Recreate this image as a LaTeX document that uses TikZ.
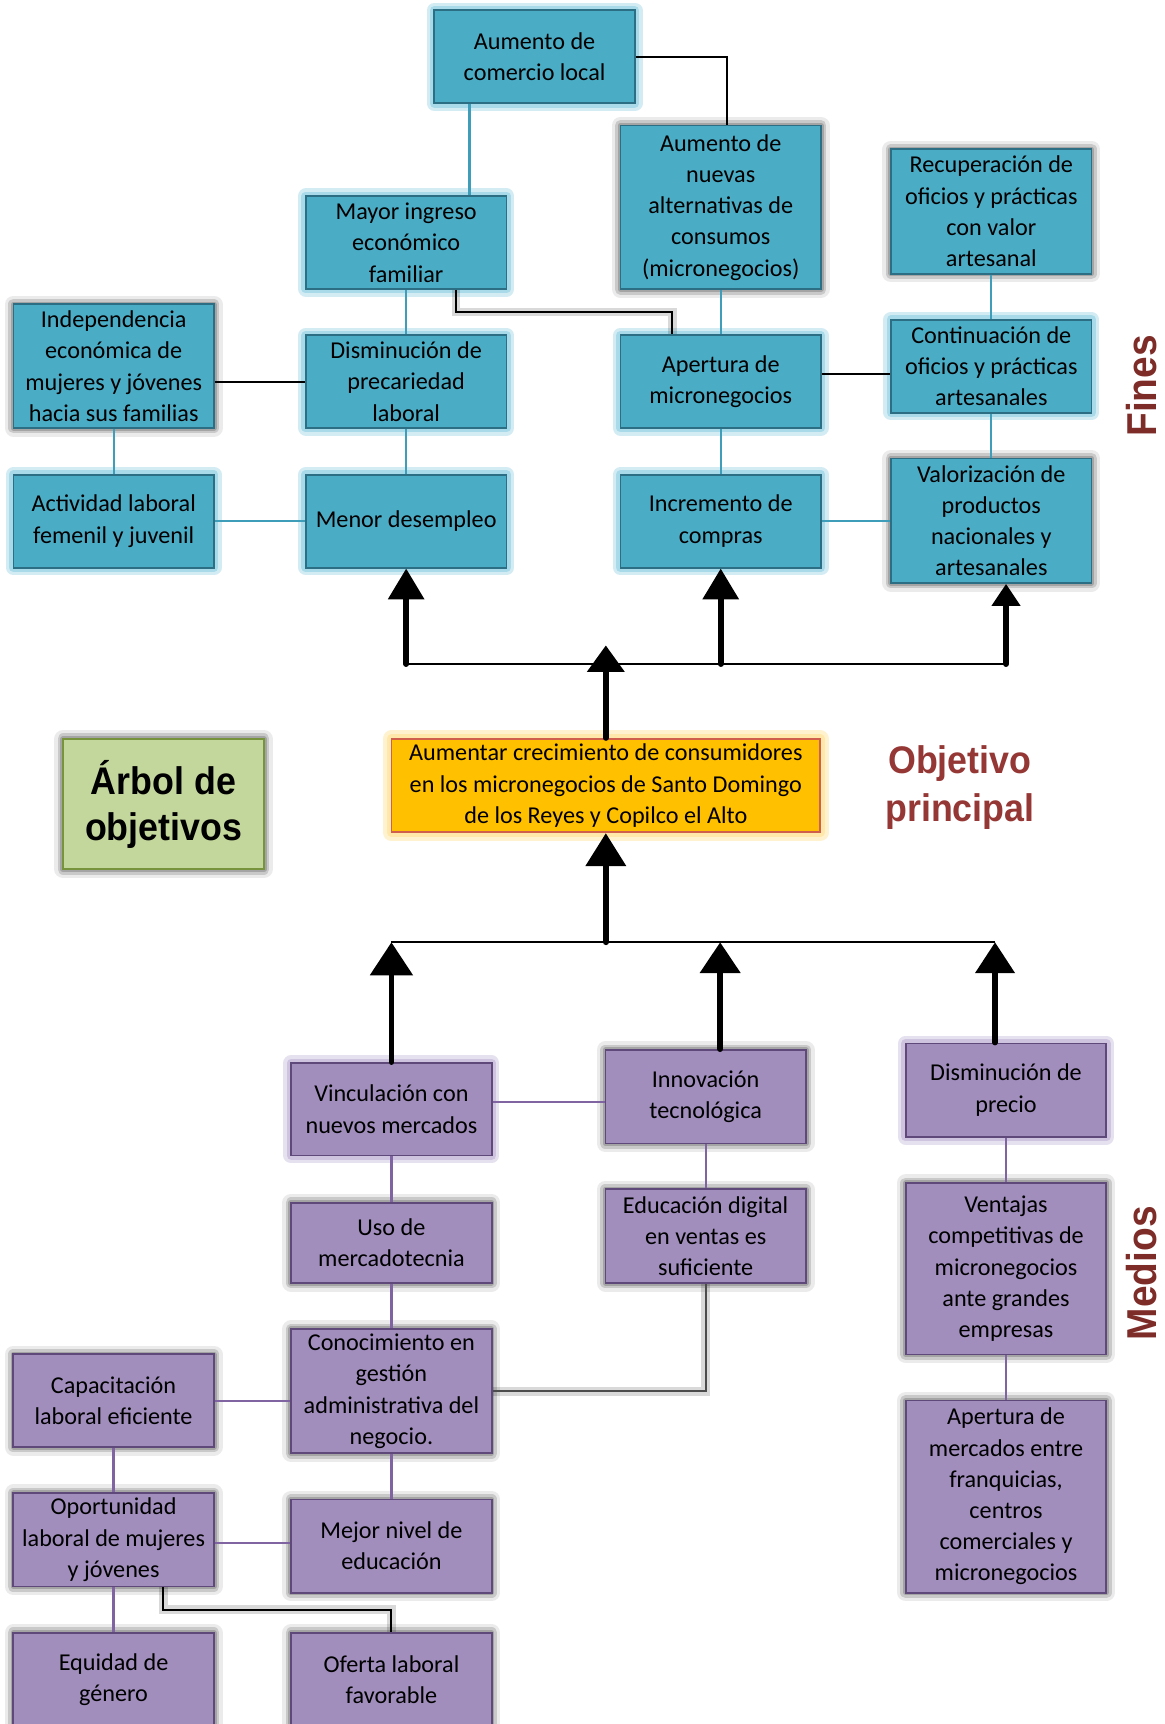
\documentclass[tikz,border=0pt]{standalone}
\usepackage{fontspec}
\setmainfont{Carlito}
\newfontfamily\headfont{Liberation Sans}[FakeStretch=0.93]
\usetikzlibrary{arrows.meta}

\definecolor{finFill}{HTML}{4BACC6}
\definecolor{finBorder}{HTML}{2C6E84}
\definecolor{finGlow}{HTML}{9ED6E8}
\definecolor{finLine}{HTML}{3E9DB8}
\definecolor{medFill}{HTML}{A18EBD}
\definecolor{medBorder}{HTML}{5F497A}
\definecolor{medGlow}{HTML}{C9BDDC}
\definecolor{medLine}{HTML}{8064A2}
\definecolor{objFill}{HTML}{FFC000}
\definecolor{objBorder}{HTML}{D0604D}
\definecolor{objGlow}{HTML}{FFE6A0}
\definecolor{treeFill}{HTML}{C3D69B}
\definecolor{treeBorder}{HTML}{77933C}
\definecolor{titleRed}{HTML}{953735}
\definecolor{sideRed}{HTML}{7E2C28}

\tikzset{
  boxtext/.style={align=center, inner sep=0pt, font=\fontsize{11}{14.2}\selectfont},
  glowfin/.style={preaction={draw=finGlow, draw opacity=0.45, line width=7pt, line join=round},
                  preaction={draw=finGlow, draw opacity=0.8, line width=4pt, line join=round}},
  glowmed/.style={preaction={draw=medGlow, draw opacity=0.45, line width=7pt, line join=round},
                  preaction={draw=medGlow, draw opacity=0.8, line width=4pt, line join=round}},
  grayshade/.style={preaction={draw=black, draw opacity=0.08, line width=8pt, line join=round},
                    preaction={draw=black, draw opacity=0.14, line width=5pt, line join=round},
                    preaction={draw=black, draw opacity=0.18, line width=2.5pt, line join=round}},
  finbox/.style={boxtext, rectangle, draw=finBorder, line width=0.8pt, fill=finFill, minimum width=91.2pt},
  medbox/.style={boxtext, rectangle, draw=medBorder, line width=0.8pt, fill=medFill, minimum width=91.2pt},
  finlink/.style={draw=finLine, line width=1pt},
  medlink/.style={draw=medLine, line width=1pt},
  blacklink/.style={draw=black, line width=0.9pt},
  shadedlink/.style={line width=0.9pt, preaction={draw=black, draw opacity=0.15, line width=4pt}},
  busline/.style={draw=black, line width=1pt},
  shaft/.style={draw=black, line width=2.6pt, line cap=round},
}

\begin{document}
\begin{tikzpicture}[x=0.5pt, y=-0.5pt]
\useasboundingbox (0,0) rectangle (1059,1568);
\fill[white] (0,0) rectangle (1059,1568);

% ---------- Fines ----------
\node[finbox, glowfin, minimum height=42.3pt]  (comercio) at (486.2,51.7)  {Aumento de\\comercio local};
\node[finbox, grayshade, minimum height=74.35pt] (nuevas) at (655.5,188.55) {Aumento de\\nuevas\\alternativas de\\consumos\\(micronegocios)};
\node[finbox, grayshade, minimum height=56.55pt] (recup)  at (901.6,192.35) {Recuperación de\\oficios y prácticas\\con valor\\artesanal};
\node[finbox, glowfin, minimum height=42.3pt]  (mayor)    at (369.4,220.6) {Mayor ingreso\\económico\\familiar};
\node[finbox, grayshade, minimum height=56.2pt] (indep)   at (103.4,333)   {Independencia\\económica de\\mujeres y jóvenes\\hacia sus familias};
\node[finbox, glowfin, minimum height=42.1pt]  (dismin)   at (369.4,347.1) {Disminución de\\precariedad\\laboral};
\node[finbox, glowfin, minimum height=42.1pt]  (apert)    at (655.5,347.1) {Apertura de\\micronegocios};
\node[finbox, glowfin, minimum height=42.3pt]  (contin)   at (901.6,333)   {Continuación de\\oficios y prácticas\\artesanales};
\node[finbox, glowfin, minimum height=42.3pt]  (activ)    at (103.4,474)   {Actividad laboral\\femenil y juvenil};
\node[finbox, glowfin, minimum height=42.3pt]  (menor)    at (369.4,474)   {Menor desempleo};
\node[finbox, glowfin, minimum height=42.3pt]  (increm)   at (655.5,474)   {Incremento de\\compras};
\node[finbox, grayshade, minimum height=56.6pt] (valor)   at (901.6,473.6) {Valorización de\\productos\\nacionales y\\artesanales};

% helper positions for connectors
\coordinate (xcom) at (427,0);
\coordinate (xnue) at (661,0);
\coordinate (xmay) at (414.7,0);
\coordinate (xape) at (611.3,0);
\coordinate (ymay) at (0,283.8);
\coordinate (yape) at (0,340.2);

\draw[finlink] (comercio.south -| xcom) -- (mayor.north -| xcom);
\draw[blacklink] (comercio.east) -| (nuevas.north -| xnue);
\draw[finlink] (nuevas.south) -- (apert.north);
\draw[finlink] (recup.south) -- (contin.north);
\draw[finlink] (mayor.south) -- (dismin.north);
\draw[shadedlink] (mayor.south -| xmay) -- (ymay -| xmay) -- (ymay -| xape) -- (apert.north -| xape);
\draw[blacklink] (dismin.west) -- (dismin.west -| indep.east);
\draw[blacklink] (apert.east |- yape) -- (contin.west |- yape);
\draw[finlink] (indep.south) -- (activ.north);
\draw[finlink] (dismin.south) -- (menor.north);
\draw[finlink] (apert.south) -- (increm.north);
\draw[finlink] (contin.south) -- (valor.north);
\draw[finlink] (activ.east) -- (menor.west);
\draw[finlink] (increm.east) -- (increm.east -| valor.west);

% ---------- central objective ----------
\node[boxtext, rectangle, draw=objBorder, line width=0.8pt, fill=objFill,
      minimum width=195pt, minimum height=42.5pt,
      preaction={draw=objGlow, draw opacity=0.5, line width=8pt, line join=round},
      preaction={draw=objGlow, draw opacity=0.8, line width=4pt, line join=round}]
      (obj) at (551,714.5) {Aumentar crecimiento de consumidores\\en los micronegocios de Santo Domingo\\de los Reyes y Copilco el Alto};

\node[rectangle, draw=treeBorder, line width=0.9pt, fill=treeFill, grayshade,
      minimum width=91.25pt, minimum height=59.3pt, align=center, inner sep=0pt,
      font=\headfont\bfseries\fontsize{17.5}{21}\selectfont]
      (arbol) at (148.75,731.3) {Árbol de\\objetivos};

\node[align=center, inner sep=0pt, text=titleRed,
      font=\headfont\bfseries\fontsize{17.5}{22}\selectfont]
      (objtitle) at (873,716) {Objetivo\\principal};

\node[rotate=90, inner sep=0pt, text=sideRed, font=\headfont\bfseries\fontsize{19}{19}\selectfont]
      (fines) at (1038,351) {Fines};
\node[rotate=90, inner sep=0pt, text=sideRed, font=\headfont\bfseries\fontsize{19}{19}\selectfont]
      (medios) at (1038,1158) {Medios};

% ---------- Medios ----------
\node[medbox, glowmed, minimum height=42.1pt]  (vinc)     at (356,1008.9)   {Vinculación con\\nuevos mercados};
\node[medbox, grayshade, minimum height=42.5pt] (innov)   at (641.8,997.5)  {Innovación\\tecnológica};
\node[medbox, glowmed, minimum height=42.5pt]  (dprecio)  at (915,991.5)    {Disminución de\\precio};
\node[medbox, grayshade, minimum height=36.5pt] (uso)     at (356,1130.3)   {Uso de\\mercadotecnia};
\node[medbox, grayshade, minimum height=42.55pt] (educ)   at (641.8,1124.25) {Educación digital\\en ventas es\\suficiente};
\node[medbox, grayshade, minimum height=78pt]   (ventajas) at (915,1154)    {Ventajas\\competitivas de\\micronegocios\\ante grandes\\empresas};
\node[medbox, grayshade, minimum height=56.35pt] (conoc)  at (356,1265.25)  {Conocimiento en\\gestión\\administrativa del\\negocio.};
\node[medbox, grayshade, minimum height=42.1pt] (capac)   at (103.3,1273.9) {Capacitación\\laboral eficiente};
\node[medbox, grayshade, minimum height=87.35pt] (aperm)  at (915,1361.15)  {Apertura de\\mercados entre\\franquicias,\\centros\\comerciales y\\micronegocios};
\node[medbox, grayshade, minimum height=42.5pt] (oport)   at (103.3,1400.5) {Oportunidad\\laboral de mujeres\\y jóvenes};
\node[medbox, grayshade, minimum height=42.4pt] (mejor)   at (356,1406.1)   {Mejor nivel de\\educación};
\node[medbox, grayshade, minimum height=43pt]   (equidad) at (103.3,1528)   {Equidad de\\género};
\node[medbox, grayshade, minimum height=43pt]   (oferta)  at (356,1528)     {Oferta laboral\\favorable};

\coordinate (yvin) at (0,1002.6);
\coordinate (yopo) at (0,1403.4);
\coordinate (xopo) at (148.5,0);
\coordinate (yofe) at (0,1464);

\draw[medlink] (vinc.east |- yvin) -- (innov.west |- yvin);
\draw[medlink] (innov.south) -- (educ.north);
\draw[medlink] (vinc.south) -- (uso.north);
\draw[medlink] (uso.south) -- (conoc.north);
\draw[medlink] (conoc.south) -- (mejor.north);
\draw[medlink] (capac.east) -- (capac.east -| conoc.west);
\draw[medlink] (capac.south) -- (oport.north);
\draw[medlink] (oport.east |- yopo) -- (mejor.west |- yopo);
\draw[medlink] (oport.south) -- (equidad.north);
\draw[medlink] (dprecio.south) -- (ventajas.north);
\draw[medlink] (ventajas.south) -- (aperm.north);
\draw[shadedlink, draw=black!70] (conoc.east) -| (educ.south);
\draw[shadedlink] (oport.south -| xopo) -- (yofe -| xopo) -- (yofe -| oferta.north) -- (oferta.north);

% ---------- arrows towards the objective and the ends ----------
\coordinate (ybusup) at (0,604);
\coordinate (xval) at (915,0);
\coordinate (ytop) at (0,587);
\coordinate (ybuslow) at (0,857);
\coordinate (xinn) at (655,0);
\coordinate (xdpr) at (905,0);

\draw[busline] (menor.south |- ybusup) -- (ybusup -| xval);
\draw[shaft, -{Triangle[width=16pt,length=14pt]}] (menor.south |- ybusup) -- (menor.south);
\draw[shaft, -{Triangle[width=16pt,length=14pt]}] (increm.south |- ybusup) -- (increm.south);
\draw[shaft, -{Triangle[width=12.5pt,length=10pt]}] (ybusup -| xval) -- (valor.south -| xval);
\draw[shaft, -{Triangle[width=16.5pt,length=12pt]}] (obj.north) -- (obj.north |- ytop);

\draw[busline] (ybuslow -| vinc.north) -- (ybuslow -| xdpr);
\draw[shaft, -{Triangle[width=18pt,length=15pt]}] (obj.south |- ybuslow) -- (obj.south);
\draw[shaft, -{Triangle[width=19pt,length=15pt]}] (vinc.north) -- (vinc.north |- ybuslow);
\draw[shaft, -{Triangle[width=18pt,length=14pt]}] (innov.north -| xinn) -- (ybuslow -| xinn);
\draw[shaft, -{Triangle[width=17.5pt,length=14pt]}] (dprecio.north -| xdpr) -- (ybuslow -| xdpr);
\end{tikzpicture}
\end{document}
